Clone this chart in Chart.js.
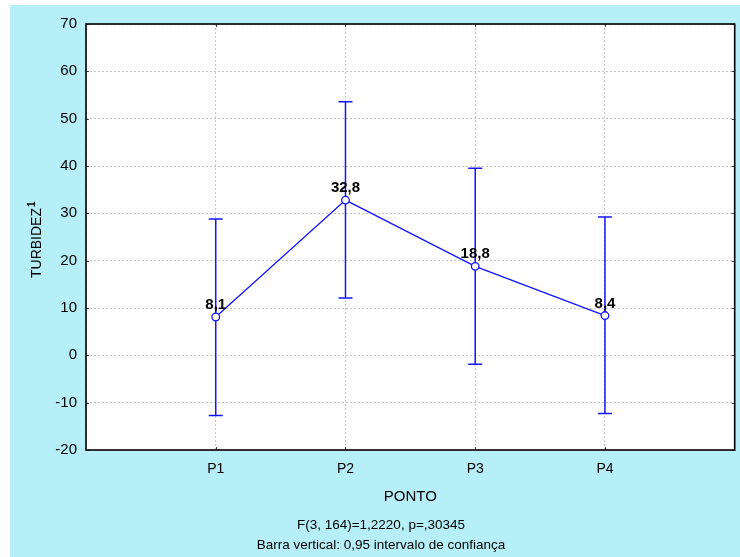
<!DOCTYPE html>
<html>
<head>
<meta charset="utf-8">
<script src="https://cdn.jsdelivr.net/npm/chart.js@4/dist/chart.umd.min.js"></script>
<style>
  html, body { margin: 0; padding: 0; background: #fff; }
  canvas { display: block; }
</style>
</head>
<body>
<canvas id="chart" width="740" height="557"></canvas>
<script>
const categories = ["P1", "P2", "P3", "P4"];
const means = [8.1, 32.8, 18.8, 8.4];
const lower = [-12.7, 12.1, -1.9, -12.3];
const upper = [28.8, 53.6, 39.5, 29.2];
const yTicks = [-20, -10, 0, 10, 20, 30, 40, 50, 60, 70];
const meanLabels = ["8,1", "32,8", "18,8", "8,4"];

const BLUE = "#1414ff";
const FONT = "'Liberation Sans', Arial, sans-serif";

const backdrop = {
  id: "backdrop",
  beforeDraw(chart) {
    const { ctx, chartArea: a } = chart;
    ctx.save();
    ctx.fillStyle = "#b7eff8";
    ctx.fillRect(10, 5, chart.width - 10, chart.height - 5);
    ctx.fillStyle = "#fff";
    ctx.fillRect(a.left, a.top, a.right - a.left, a.bottom - a.top);
    ctx.restore();
  }
};

const errorBars = {
  id: "errorBars",
  beforeDatasetsDraw(chart) {
    const { ctx, scales: { x, y } } = chart;
    ctx.save();
    ctx.strokeStyle = BLUE;
    ctx.lineWidth = 1.5;
    means.forEach((m, i) => {
      const px = x.getPixelForValue(i + 1);
      const top = y.getPixelForValue(upper[i]);
      const bot = y.getPixelForValue(lower[i]);
      ctx.beginPath();
      ctx.moveTo(px, top); ctx.lineTo(px, bot);
      ctx.moveTo(px - 7, top); ctx.lineTo(px + 7, top);
      ctx.moveTo(px - 7, bot); ctx.lineTo(px + 7, bot);
      ctx.stroke();
    });
    ctx.restore();
  }
};

const frame = {
  id: "frame",
  afterDraw(chart) {
    const { ctx, chartArea: a, scales: { x, y } } = chart;
    ctx.save();
    // small inward ticks
    ctx.strokeStyle = "#444";
    ctx.lineWidth = 1;
    ctx.beginPath();
    yTicks.forEach((v) => {
      const py = Math.round(y.getPixelForValue(v)) + 0.5;
      ctx.moveTo(a.left, py); ctx.lineTo(a.left + 3, py);
      ctx.moveTo(a.right, py); ctx.lineTo(a.right - 3, py);
    });
    categories.forEach((c, i) => {
      const px = Math.round(x.getPixelForValue(i + 1)) + 0.5;
      ctx.moveTo(px, a.top); ctx.lineTo(px, a.top + 3);
      ctx.moveTo(px, a.bottom); ctx.lineTo(px, a.bottom - 3);
    });
    ctx.stroke();
    // box
    ctx.strokeStyle = "#000";
    ctx.lineWidth = 1.6;
    ctx.strokeRect(a.left, a.top, a.right - a.left, a.bottom - a.top);

    // mean labels
    ctx.fillStyle = "#000";
    ctx.font = "bold 15px " + FONT;
    ctx.textAlign = "center";
    ctx.textBaseline = "alphabetic";
    means.forEach((m, i) => {
      ctx.fillText(meanLabels[i], x.getPixelForValue(i + 1), y.getPixelForValue(m) - 8);
    });

    // axis titles and notes
    ctx.font = "15px " + FONT;
    ctx.textBaseline = "middle";
    ctx.fillText("PONTO", (a.left + a.right) / 2, 497);
    ctx.font = "13.5px " + FONT;
    ctx.fillText("F(3, 164)=1,2220, p=,30345", 381, 525);
    ctx.fillText("Barra vertical: 0,95 intervalo de confiança", 381, 545);

    ctx.translate(37, 243);
    ctx.rotate(-Math.PI / 2);
    ctx.font = "14px " + FONT;
    ctx.textAlign = "center";
    ctx.fillText("TURBIDEZ", 0, 0);
    const w = ctx.measureText("TURBIDEZ").width;
    ctx.font = "bold 10px " + FONT;
    ctx.textAlign = "left";
    ctx.fillText("1", w / 2 + 1, -5);
    ctx.restore();
  }
};

new Chart(document.getElementById("chart"), {
  type: "line",
  data: {
    datasets: [{
      data: means.map((m, i) => ({ x: i + 1, y: m })),
      borderColor: BLUE,
      borderWidth: 1.3,
      pointRadius: 3.8,
      pointBorderWidth: 1.3,
      pointBackgroundColor: "#fff",
      pointBorderColor: BLUE,
      tension: 0
    }]
  },
  options: {
    responsive: false,
    animation: false,
    layout: { padding: { left: 0, right: 1, top: 24, bottom: 0 } },
    plugins: { legend: { display: false }, tooltip: { enabled: false } },
    scales: {
      x: {
        type: "linear",
        min: 0,
        max: 5,
        afterFit(scale) {
          scale.height = 107;
          scale.paddingLeft = 0;
          scale.paddingRight = 0;
        },
        afterBuildTicks(scale) { scale.ticks = [0, 1, 2, 3, 4, 5].map((v) => ({ value: v })); },
        grid: { color: "#c4c4c4", lineWidth: 1, drawTicks: false },
        border: { display: false, dash: [2, 2] },
        ticks: {
          padding: 11,
          color: "#000",
          font: { family: FONT, size: 14 },
          maxRotation: 0,
          autoSkip: false,
          callback: (v) => categories[v - 1] || ""
        }
      },
      y: {
        min: -20,
        max: 70,
        afterFit(scale) {
          scale.width = 86;
          scale.paddingTop = 0;
          scale.paddingBottom = 0;
        },
        afterBuildTicks(scale) { scale.ticks = yTicks.map((v) => ({ value: v })); },
        grid: { color: "#c4c4c4", lineWidth: 1, drawTicks: false },
        border: { display: false, dash: [2, 2] },
        ticks: {
          padding: 9,
          color: "#000",
          font: { family: FONT, size: 15 }
        }
      }
    }
  },
  plugins: [backdrop, errorBars, frame]
});
</script>
</body>
</html>
